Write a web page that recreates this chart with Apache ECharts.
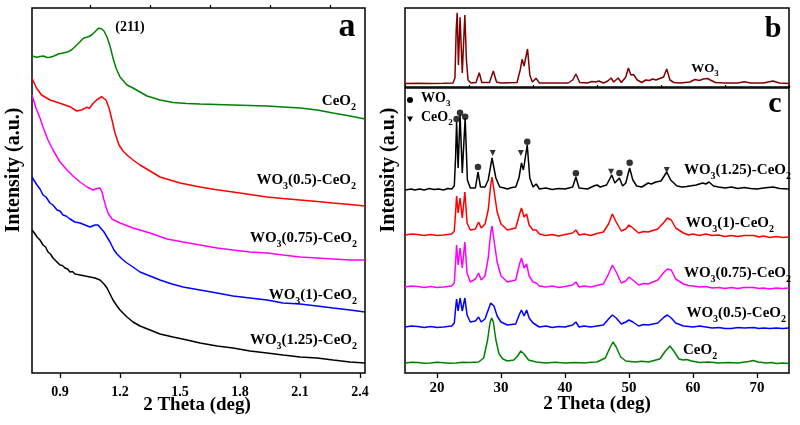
<!DOCTYPE html>
<html><head><meta charset="utf-8">
<script src="https://cdn.jsdelivr.net/npm/echarts@6/dist/echarts.min.js"></script>
<style>html,body{margin:0;padding:0;background:#fff}#c{width:800px;height:425px}</style>
</head><body><div id="c"></div>
<script>
// ---------- Panel a : low-angle XRD (2θ, intensity a.u., curves as stacked in figure) ----------
const aTicks = [0.9, 1.2, 1.5, 1.8, 2.1, 2.4];
const aMinorTicks = [1.05, 1.35, 1.65, 1.95, 2.25];
const aCeO2 = [[0.76,317],[0.783,315.7],[0.8,316.5],[0.817,317],[0.835,315.5],[0.85,315.7],[0.87,317],[0.892,319],[0.915,320],[0.942,321.3],[0.96,323.5],[0.975,326.3],[1.0,331.3],[1.017,334.7],[1.033,335.7],[1.045,336.5],[1.058,338],[1.075,341.3],[1.092,344.7],[1.105,344.5],[1.12,342],[1.135,336],[1.15,327],[1.165,315],[1.18,305],[1.2,296],[1.235,288],[1.265,285],[1.3,281],[1.335,277],[1.4,273],[1.465,270.5],[1.535,269.5],[1.6,269],[1.685,268.5],[1.765,268],[1.85,267.5],[1.935,267],[2.015,266],[2.1,265],[2.185,263],[2.265,260],[2.35,257],[2.425,254]];
const aW05 = [[0.76,294.7],[0.783,284.7],[0.808,278],[0.85,273],[0.9,269.7],[0.95,266.3],[0.983,262],[1.008,263],[1.033,265.7],[1.047,264.7],[1.063,269],[1.083,273],[1.108,276.3],[1.13,273],[1.145,265],[1.16,253],[1.175,240],[1.195,228],[1.215,222],[1.235,218],[1.265,213],[1.3,208],[1.35,202],[1.4,196],[1.45,193],[1.5,190],[1.55,188],[1.6,186],[1.675,183.5],[1.765,181],[1.85,178.5],[1.935,176],[2.015,174.5],[2.1,173],[2.185,171.5],[2.265,170],[2.35,168.5],[2.425,167]];
const aW075 = [[0.76,278],[0.78,265],[0.8,255],[0.815,246],[0.84,233],[0.865,223],[0.9,211],[0.935,203],[0.965,197],[1.0,191],[1.035,186],[1.065,183],[1.085,184.5],[1.1,185],[1.11,181],[1.12,173],[1.13,166],[1.14,160],[1.16,154],[1.2,150],[1.265,145],[1.35,140],[1.435,134],[1.515,131],[1.6,128],[1.685,125],[1.765,123],[1.85,121],[1.935,120],[2.015,118],[2.1,116],[2.185,115],[2.265,114],[2.35,113],[2.425,113]];
const aW1 = [[0.76,196],[0.772,192],[0.785,188],[0.8,184],[0.815,178],[0.83,176],[0.85,170],[0.865,168],[0.885,163],[0.9,162],[0.915,158],[0.93,157],[0.95,154],[0.96,154.5],[0.975,151],[1.0,150],[1.025,148],[1.05,146],[1.075,148],[1.09,148],[1.1,146],[1.12,141],[1.15,131],[1.17,123],[1.185,119],[1.21,114],[1.235,110],[1.265,106],[1.3,101],[1.35,97],[1.4,93],[1.46,89],[1.515,86],[1.6,83],[1.685,80],[1.765,77],[1.85,75],[1.935,73],[2.015,70],[2.1,69],[2.185,67],[2.265,65],[2.35,63],[2.425,61]];
const aW125 = [[0.76,143],[0.772,140],[0.785,136],[0.8,133],[0.815,128],[0.828,126],[0.84,121],[0.852,119],[0.865,115],[0.875,114],[0.885,111],[0.9,108],[0.912,107.5],[0.925,105],[0.938,104],[0.95,101],[0.962,101.5],[0.975,99],[1.0,98],[1.025,97],[1.05,96],[1.075,95],[1.1,93],[1.12,89],[1.135,85],[1.15,79],[1.165,73],[1.185,67],[1.2,63],[1.235,56],[1.265,51],[1.3,47],[1.35,43],[1.4,39],[1.465,36],[1.535,33],[1.6,30],[1.685,27],[1.765,25],[1.85,22],[1.935,20],[2.015,18],[2.1,16],[2.185,15],[2.265,13],[2.35,11],[2.425,10]];
const aLabels = ['CeO2', 'WO3(0.5)-CeO2', 'WO3(0.75)-CeO2', 'WO3(1)-CeO2', 'WO3(1.25)-CeO2'];

// ---------- Panel b : WO3 reference pattern ----------
const bWO3 = [[15,3.5],[17,3.7],[19,3.5],[21,3.7],[22.5,4],[22.8,9],[23.0,57],[23.15,74.3],[23.35,22],[23.6,69.7],[23.95,14],[24.35,72],[24.6,27],[24.85,7],[25.3,4],[26.1,4.5],[26.6,14.3],[27.0,4.5],[28.2,4.5],[28.8,16],[29.3,5],[30,4],[32.5,4.5],[33.0,17],[33.3,27.7],[33.6,21],[34.15,38],[34.5,12],[34.9,5],[35.5,8.7],[36.0,4],[38,4],[40.5,4],[41.2,7],[41.7,13],[42.3,4.5],[43.5,4],[44.2,5.5],[44.8,5],[45.3,6],[46,4],[46.7,6],[47.2,9],[47.6,5],[48.3,9],[48.8,4.5],[49.5,10],[49.9,19],[50.3,12],[50.7,12.5],[51.3,7],[52,4.5],[52.6,7],[53.2,6.5],[53.7,8],[54.2,7],[54.8,8.5],[55.4,10],[55.9,18],[56.4,7],[57,4.5],[58,4],[59.5,5],[60.3,7.5],[61,6.5],[61.6,8],[62.3,8.5],[62.7,7],[63.5,4.5],[65,4],[67,4],[68,5.3],[69,4],[71,4],[72.5,6],[73.5,4],[75,3.5]];

// ---------- Panel c : wide-angle XRD ----------
const cTicks = [20, 30, 40, 50, 60, 70];
const cMinorTicks = [15, 25, 35, 45, 55, 65, 75];
const cW125 = [[15,183],[16,184],[16.5,183],[17.3,184],[18,183],[18.8,184.5],[19.5,183.5],[20.3,184],[21,183],[21.7,184.5],[22.3,184],[22.7,187],[22.9,215],[23.06,251],[23.3,205],[23.6,258],[23.95,200],[24.4,255],[24.75,193],[25.2,185],[26.0,185],[26.4,201],[26.8,186],[27.5,186],[28.0,193],[28.6,215],[29.2,195],[29.8,186],[30.5,185],[31,184],[31.7,185.5],[32.3,186],[32.8,195],[33.2,210],[33.5,203],[34.1,228],[34.5,195],[35.0,186],[35.5,189],[36,184],[37,185],[38,183.5],[39,184.5],[40,184],[41.2,186],[41.7,196],[42.2,185],[43.5,184],[44.5,187],[45,188],[45.5,186],[46.5,188],[47.3,198],[47.8,190],[48.5,195],[49.0,187],[49.5,190],[50.1,205],[50.6,193],[51.2,187],[52,186],[53,190],[53.5,189],[54.2,191],[55,192],[55.9,201],[56.5,193],[57.5,187],[58.3,186],[59,186.5],[60.5,188],[61.5,190],[62,189],[62.5,191],[63.2,187],[64,186],[65,185],[66,186],[67,184.5],[68,185.5],[69,184.5],[70,184],[71,185],[72.5,186],[73.5,184.5],[75,184]];
const cW1 = [[15,138],[16,139],[17,138.5],[18,137.5],[19,138.5],[20,137.5],[21,138],[22.3,139],[22.7,142],[22.9,160],[23.06,177],[23.3,160],[23.6,175],[23.95,155],[24.35,181],[24.7,150],[25.2,143],[26,144],[26.5,151],[26.9,145],[27.5,149],[28.0,163],[28.4,188],[28.6,196],[28.9,183],[29.4,161],[30,149],[31,143],[32.3,145],[32.9,159],[33.2,165],[33.6,156],[34.0,159],[34.4,148],[35,143],[35.5,143],[36,139],[37,137.5],[38,138.5],[39,137],[40,138.5],[41.2,140],[41.7,143],[42.2,138],[43,139],[44,137.5],[45,139.5],[46,141],[46.8,149],[47.4,159],[48,151],[48.8,142],[49.5,144],[50,148],[50.6,145],[51.5,140],[52.3,141.5],[53,141],[54.5,144],[55.5,151],[56.0,155],[56.6,153],[57.3,145],[58.5,140],[59.3,138],[60,139],[61,137.5],[62,139],[63,137.5],[64,138],[65,136.5],[66,137.5],[67,136.5],[68,137.5],[69.5,137.5],[70.3,136],[71,137],[72,135.5],[73,136.5],[74,135.5],[75,136]];
const cW075 = [[15,86],[16,87],[17,86.5],[18,85.5],[19,86.5],[20,85.5],[21,86],[22.3,87],[22.7,90],[22.9,110],[23.06,128],[23.3,108],[23.6,125],[23.95,105],[24.35,131],[24.7,100],[25.2,91],[26,94],[26.5,100],[26.9,93],[27.5,97],[28.0,115],[28.4,141],[28.6,147],[28.9,133],[29.4,111],[30,97],[31,91],[32.3,93],[32.9,109],[33.2,115],[33.6,105],[34.0,109],[34.4,97],[35,91],[35.5,90],[36,87],[37,86],[38,87],[39,85.5],[40,86.5],[41.2,88],[41.7,91],[42.2,86],[43,87],[44,86],[45,87.5],[46,89],[46.8,99],[47.4,108],[48,101],[48.8,90],[49.5,92],[50,96],[50.6,93],[51.5,88],[52.3,89.5],[53,89],[54.5,93],[55.5,101],[56.0,104],[56.6,103],[57.3,94],[58.5,89],[59.3,87.5],[60,87],[61,86],[62,86.5],[63,85],[64,85.5],[65,84.5],[66,85.5],[67,84.5],[68,85.5],[69.5,85.5],[70.3,84.5],[71,85],[72,84],[73,85],[74,84.5],[75,85]];
const cW05 = [[15,46],[16,47],[17,46.5],[18,45.5],[19,46.5],[20,45.5],[21,46],[22.3,47],[22.7,50],[22.9,64],[23.06,74],[23.3,62],[23.6,75],[23.95,62],[24.35,75],[24.7,58],[25.2,51],[26,52],[26.5,56],[26.9,51],[27.5,54],[28.0,63],[28.4,70],[28.6,71],[28.9,67],[29.4,57],[30,51],[31,48],[32.3,49],[32.9,59],[33.2,63],[33.6,57],[34.0,63],[34.4,55],[35,50],[35.5,48],[36,46],[37,47],[38,45.5],[39,46.5],[40,46],[41.2,48],[41.7,51],[42.2,46],[43,47],[44,46],[45,47],[46,48],[46.8,54],[47.4,58],[48,55],[48.8,49],[49.5,51],[50,53],[50.6,51],[51.5,47],[52.3,48.5],[53,48],[54.5,50],[55.5,56],[56.0,58],[56.6,55],[57.3,50],[58.5,47],[59.3,46.5],[60,46],[61,47],[62,46],[63,45],[64,45.5],[65,44.5],[66,44.5],[67,45.5],[68,45],[69.5,45.5],[70.3,44.5],[71,45],[72,44.5],[73,45],[74,44.5],[75,45]];
const cCeO2 = [[15,10],[16,10.8],[17,10.5],[18,9.8],[19,10],[20,10.8],[21,10.3],[22,9.8],[23,10],[24,10.8],[25,10.5],[26.5,11],[27.3,15],[27.9,33],[28.3,51],[28.55,55],[28.8,51],[29.2,33],[29.7,19],[30.3,14],[31,12],[32,13],[32.6,17],[33.1,22],[33.6,19],[34.3,13],[35.5,11],[37,10],[38.5,10.8],[40,10],[41.5,10.6],[43,10],[44,10.7],[45,11],[46.3,15],[47,25],[47.5,31],[48,26],[48.7,16],[49.5,12],[51,11],[52,11.8],[53,11],[54.8,14],[55.7,22],[56.4,27],[57,22],[57.8,14],[58.5,13],[59.0,13.5],[59.8,12],[61,10.5],[62.5,11],[64,10],[65.5,10.6],[67,10],[68.7,11.5],[69.4,12.5],[70.2,11],[71.5,10],[72.3,10.5],[73,9.5],[74,10],[75,9.5]];
const cWO3Marks = [[23.06,254],[23.6,260.3],[24.4,256.3],[26.4,206],[34.1,231.3],[41.7,199.7],[48.5,200],[50.1,210.3]];
const cCeO2Marks = [[28.7,220],[33.1,220],[47.2,201.3],[55.9,203]];
const cLabels = ['WO3(1.25)-CeO2', 'WO3(1)-CeO2', 'WO3(0.75)-CeO2', 'WO3(0.5)-CeO2', 'CeO2'];

// ---------- styling ----------
const FF = 'Liberation Serif';
const COL = {green:'#008000', red:'#ff0000', mag:'#ff00ff', blue:'#0000ff', black:'#000000', wine:'#800000'};

function chem(s) {
  return s.split(/(O\d)/).filter(p => p.length).map(p =>
    /^O\d$/.test(p) ? '{n|O}{s|' + p[1] + '}' : '{n|' + p + '}').join('');
}
function richFor(size) {
  return {
    n: {fontFamily: FF, fontWeight: 'bold', fontSize: size, fill: '#000', verticalAlign: 'bottom', padding: [0,0,Math.round(size*0.22),0]},
    s: {fontFamily: FF, fontWeight: 'bold', fontSize: Math.round(size*0.66), fill: '#000', verticalAlign: 'bottom'}
  };
}
function chemText(str, x, y, size, align) {
  return {type: 'text', x: x, y: y, z: 100, style: {text: chem(str), rich: richFor(size), align: align, verticalAlign: 'middle', fill: '#000'}};
}
function plainText(str, x, y, size, align, rot) {
  return {type: 'text', x: x, y: y, rotation: rot || 0, z: 100,
    style: {text: str, font: 'bold ' + size + 'px "' + FF + '"', fill: '#000', align: align || 'center', verticalAlign: 'middle'}};
}
function line(data, color, xi, yi) {
  return {type: 'line', data: data, xAxisIndex: xi, yAxisIndex: yi, showSymbol: false, symbol: 'none',
    lineStyle: {color: color, width: 1.5}, silent: true, animation: false};
}

const gridStyle = {show: true, borderColor: '#000', borderWidth: 1.5, backgroundColor: 'transparent'};
const option = {
  backgroundColor: '#fff',
  animation: false,
  grid: [
    Object.assign({left: 32, top: 8, width: 333, height: 365}, gridStyle),
    Object.assign({left: 405, top: 8, width: 384, height: 79}, gridStyle),
    Object.assign({left: 405, top: 88, width: 384, height: 285}, gridStyle)
  ],
  xAxis: [
    {type: 'value', gridIndex: 0, min: 0.76, max: 2.425, axisLine: {show: false}, splitLine: {show: false},
     axisTick: {customValues: aTicks, length: 5, lineStyle: {color: '#000', width: 1.3}},
     axisLabel: {customValues: aTicks, margin: 12, color: '#000', fontFamily: FF, fontWeight: 'bold', fontSize: 14}},
    {type: 'value', gridIndex: 0, min: 0.76, max: 2.425, axisLine: {show: false}, splitLine: {show: false},
     axisTick: {customValues: aMinorTicks, length: 3, lineStyle: {color: '#000', width: 1.2}},
     axisLabel: {show: false}},
    {type: 'value', gridIndex: 1, min: 15, max: 75, axisLine: {show: false}, splitLine: {show: false},
     axisTick: {show: false}, axisLabel: {show: false}},
    {type: 'value', gridIndex: 2, min: 15, max: 75, axisLine: {show: false}, splitLine: {show: false},
     axisTick: {customValues: cTicks, length: 5, lineStyle: {color: '#000', width: 1.3}},
     axisLabel: {customValues: cTicks, margin: 8, color: '#000', fontFamily: FF, fontWeight: 'bold', fontSize: 15}},
    {type: 'value', gridIndex: 2, min: 15, max: 75, axisLine: {show: false}, splitLine: {show: false},
     axisTick: {customValues: cMinorTicks, length: 3, lineStyle: {color: '#000', width: 1.2}},
     axisLabel: {show: false}}
  ],
  yAxis: [
    {type: 'value', gridIndex: 0, min: 0, max: 365, show: false},
    {type: 'value', gridIndex: 1, min: 0, max: 79, show: false},
    {type: 'value', gridIndex: 2, min: 0, max: 285, show: false}
  ],
  series: [
    line(aCeO2, COL.green, 0, 0),
    line(aW05, COL.red, 0, 0),
    line(aW075, COL.mag, 0, 0),
    line(aW1, COL.blue, 0, 0),
    line(aW125, COL.black, 0, 0),
    line(bWO3, COL.wine, 2, 1),
    line(cCeO2, COL.green, 3, 2),
    line(cW05, COL.blue, 3, 2),
    line(cW075, COL.mag, 3, 2),
    line(cW1, COL.red, 3, 2),
    line(cW125, COL.black, 3, 2),
    {type: 'scatter', data: cWO3Marks, xAxisIndex: 3, yAxisIndex: 2, symbol: 'circle', symbolSize: 6.5,
     itemStyle: {color: '#000'}, silent: true, z: 5},
    {type: 'scatter', data: cCeO2Marks, xAxisIndex: 3, yAxisIndex: 2, symbol: 'triangle', symbolRotate: 180, symbolSize: 6,
     itemStyle: {color: '#000'}, silent: true, z: 5}
  ],
  graphic: [
    plainText('a', 347, 27, 34),
    plainText('b', 773, 29, 30),
    plainText('c', 775, 104, 30),
    plainText('(211)', 130, 27, 14),
    plainText('2 Theta (deg)', 197, 405, 19),
    plainText('2 Theta (deg)', 597, 404, 19),
    plainText('Intensity (a.u.)', 14, 170, 20, 'center', Math.PI / 2),
    plainText('Intensity (a.u.)', 389, 170, 20, 'center', Math.PI / 2),
    chemText(aLabels[0], 356, 103, 15, 'right'),
    chemText(aLabels[1], 356, 182, 15, 'right'),
    chemText(aLabels[2], 357, 240, 15, 'right'),
    chemText(aLabels[3], 357, 297, 15, 'right'),
    chemText(aLabels[4], 357, 342, 15, 'right'),
    chemText(cLabels[0], 791, 172, 15, 'right'),
    chemText(cLabels[1], 774, 225, 15, 'right'),
    chemText(cLabels[2], 791, 275, 15, 'right'),
    chemText(cLabels[3], 786, 315, 15, 'right'),
    chemText(cLabels[4], 683, 352, 15, 'left'),
    chemText('WO3', 705, 70, 13, 'center'),
    {type: 'circle', shape: {cx: 410, cy: 100, r: 3}, style: {fill: '#000'}, z: 100},
    {type: 'polygon', shape: {points: [[407, 116.5], [413, 116.5], [410, 122]]}, style: {fill: '#000'}, z: 100},
    chemText('WO3', 421, 100, 14, 'left'),
    chemText('CeO2', 421, 119, 14, 'left')
  ]
};
const chart = echarts.init(document.getElementById('c'), null, {renderer: 'canvas'});
chart.setOption(option);
</script></body></html>
